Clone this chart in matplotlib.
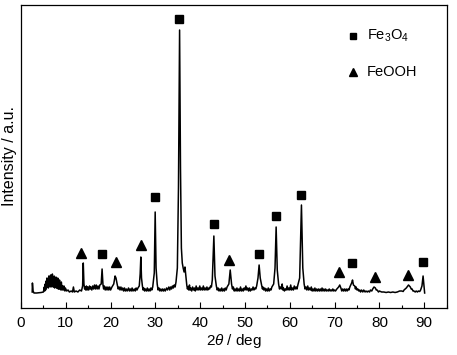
import matplotlib
matplotlib.use('Agg')
import matplotlib.pyplot as plt
from matplotlib.ticker import MultipleLocator

plt.rcParams['font.family'] = ['Liberation Sans', 'DejaVu Sans']
plt.rcParams['mathtext.fontset'] = 'custom'
plt.rcParams['mathtext.it'] = 'Liberation Sans:italic'
plt.rcParams['mathtext.rm'] = 'Liberation Sans'

# XRD profile (2theta in deg, intensity in a.u.)
pattern = [
    (2.5, 16), (2.55, 25), (2.7, 17), (2.9, 15), (3.5, 15), (4.5, 15.5), (5.0, 16),
    (5.2, 21), (5.3, 17), (5.4, 24), (5.5, 18), (5.6, 27), (5.7, 20), (5.8, 30),
    (5.9, 21), (6.0, 26), (6.1, 20), (6.2, 32), (6.3, 22), (6.4, 28), (6.5, 21),
    (6.6, 33), (6.7, 22), (6.8, 29), (6.9, 21), (7.0, 34), (7.1, 22), (7.2, 28),
    (7.3, 21), (7.4, 32), (7.5, 20), (7.6, 27), (7.7, 21), (7.8, 31), (7.9, 20),
    (8.0, 26), (8.1, 20), (8.2, 30), (8.3, 19), (8.4, 25), (8.5, 19), (8.6, 28),
    (8.7, 19), (8.8, 24), (8.9, 18), (9.0, 26), (9.2, 18), (9.3, 22), (9.5, 18),
    (9.6, 22), (9.8, 17), (9.9, 20), (10.2, 17), (10.5, 18), (10.8, 16), (11.2, 17),
    (11.5, 16), (11.7, 21), (11.9, 16), (12.3, 17), (12.7, 16), (13.1, 18), (13.5, 17),
    (13.75, 22), (13.9, 45), (14.05, 24), (14.2, 19), (14.3, 21), (14.45, 18), (14.6, 22),
    (14.75, 18), (14.9, 21), (15.1, 18), (15.3, 22), (15.45, 19), (15.6, 21), (15.8, 18),
    (16.0, 22), (16.2, 19), (16.4, 23), (16.6, 19), (16.8, 23), (17.0, 19), (17.2, 22),
    (17.4, 19), (17.6, 23), (17.9, 24), (18.1, 39), (18.3, 23), (18.45, 19), (18.6, 22),
    (18.8, 18), (19.0, 21), (19.2, 18), (19.4, 21), (19.6, 18), (19.8, 21), (20.0, 18),
    (20.3, 21), (20.7, 24), (21.0, 32), (21.2, 30), (21.5, 23), (21.7, 19), (21.9, 21),
    (22.1, 18), (22.3, 21), (22.5, 18), (22.7, 20), (22.9, 17), (23.1, 20), (23.3, 17),
    (23.5, 19), (23.7, 17), (24.0, 20), (24.2, 17), (24.4, 19), (24.6, 17), (24.8, 20),
    (25.0, 17), (25.3, 19), (25.5, 17), (25.7, 20), (25.9, 18), (26.1, 20), (26.4, 22),
    (26.6, 34), (26.75, 51), (26.9, 30), (27.1, 22), (27.25, 18), (27.4, 20), (27.6, 17),
    (27.8, 19), (28.0, 17), (28.2, 20), (28.4, 17), (28.6, 19), (28.8, 17), (29.0, 20),
    (29.2, 18), (29.4, 21), (29.75, 35), (29.95, 96), (30.15, 40), (30.4, 24), (30.6, 18),
    (30.8, 20), (31.0, 17), (31.2, 19), (31.4, 17), (31.6, 19), (31.8, 17), (32.0, 19),
    (32.2, 17), (32.5, 20), (32.7, 18), (33.0, 21), (33.2, 18), (33.4, 21), (33.6, 19),
    (33.8, 22), (34.0, 20), (34.2, 23), (34.4, 21), (34.6, 26), (34.9, 40), (35.15, 120),
    (35.4, 278), (35.6, 140), (35.8, 60), (36.0, 45), (36.2, 40), (36.4, 36), (36.6, 41),
    (36.8, 32), (37.0, 23), (37.15, 19), (37.3, 21), (37.45, 18), (37.6, 23), (37.75, 18),
    (37.9, 20), (38.1, 17), (38.3, 21), (38.5, 18), (38.7, 20), (38.9, 17), (39.1, 22),
    (39.3, 18), (39.5, 20), (39.7, 18), (39.9, 22), (40.1, 18), (40.3, 20), (40.5, 18),
    (40.7, 22), (40.9, 18), (41.1, 20), (41.3, 18), (41.5, 21), (41.7, 18), (41.9, 20),
    (42.1, 19), (42.3, 22), (42.5, 21), (42.7, 28), (43.05, 72), (43.3, 32), (43.6, 22),
    (43.8, 18), (44.0, 20), (44.2, 17), (44.4, 19), (44.6, 17), (44.8, 20), (45.0, 17),
    (45.2, 19), (45.4, 17), (45.6, 20), (45.8, 18), (46.0, 21), (46.4, 24), (46.7, 38),
    (47.0, 24), (47.2, 19), (47.4, 21), (47.6, 17), (47.8, 19), (48.0, 17), (48.2, 20),
    (48.4, 17), (48.6, 19), (48.8, 17), (49.0, 21), (49.2, 17), (49.4, 19), (49.6, 17),
    (49.8, 20), (50.0, 18), (50.2, 22), (50.4, 18), (50.6, 20), (50.8, 17), (51.0, 20),
    (51.2, 17), (51.4, 19), (51.6, 18), (51.8, 21), (52.0, 18), (52.2, 20), (52.4, 19),
    (52.6, 22), (52.9, 30), (53.15, 43), (53.4, 30), (53.7, 23), (53.9, 19), (54.0, 21),
    (54.2, 18), (54.4, 20), (54.6, 17), (54.8, 19), (55.0, 17), (55.2, 20), (55.4, 17),
    (55.6, 19), (55.8, 18), (56.0, 21), (56.4, 24), (56.7, 40), (56.95, 81), (57.2, 38),
    (57.5, 24), (57.7, 19), (57.9, 21), (58.1, 19), (58.3, 24), (58.45, 18), (58.6, 20),
    (58.8, 17), (59.0, 19), (59.2, 18), (59.4, 22), (59.6, 18), (59.8, 20), (60.0, 18),
    (60.2, 23), (60.4, 18), (60.6, 20), (60.8, 18), (61.0, 22), (61.2, 19), (61.4, 21),
    (61.6, 19), (61.8, 23), (62.2, 30), (62.6, 103), (62.9, 40), (63.2, 24), (63.4, 19),
    (63.6, 21), (63.8, 18), (64.0, 22), (64.2, 18), (64.4, 20), (64.6, 18), (64.8, 21),
    (65.0, 17), (65.2, 19), (65.4, 17), (65.6, 20), (65.8, 17), (66.0, 19), (66.2, 17),
    (66.4, 19), (66.6, 17), (66.8, 19), (67.0, 17), (67.2, 20), (67.4, 17), (67.6, 19),
    (67.8, 17), (68.0, 19), (68.2, 17), (68.4, 18), (68.6, 17), (68.8, 19), (69.0, 17),
    (69.2, 18), (69.4, 17), (69.6, 19), (69.8, 17), (70.0, 18), (70.2, 17), (70.5, 19),
    (70.9, 21), (71.15, 23), (71.4, 20), (71.6, 17), (71.8, 19), (72.0, 17), (72.2, 19),
    (72.4, 17), (72.6, 19), (72.8, 17), (73.0, 19), (73.2, 18), (73.4, 21), (73.8, 25),
    (74.0, 28), (74.2, 23), (74.5, 22), (74.65, 19), (74.8, 21), (75.0, 18), (75.2, 19),
    (75.4, 17), (75.6, 18), (75.8, 16), (76.0, 18), (76.3, 16), (76.5, 18), (76.8, 16),
    (77.0, 17), (77.3, 16), (77.5, 17), (77.8, 16), (78.0, 18), (78.3, 17), (78.5, 19),
    (78.8, 21), (79.1, 20), (79.3, 18), (79.5, 18), (79.8, 16), (80.0, 17), (80.5, 16),
    (81.0, 16), (81.5, 15.5), (82.0, 16), (82.5, 15.5), (83.0, 16), (83.5, 15.5), (84.0, 16),
    (84.5, 17), (85.0, 17), (85.3, 16.5), (85.5, 18), (86.0, 20), (86.5, 23), (86.9, 21),
    (87.1, 19), (87.3, 19), (87.5, 17), (87.7, 17), (88.0, 16), (88.2, 17), (88.5, 16),
    (88.7, 17), (89.0, 16.5), (89.2, 18), (89.5, 22), (89.75, 32), (89.95, 22), (90.1, 15),
]
two_theta = [p[0] for p in pattern]
intensity = [p[1] for p in pattern]

# phase markers above the peaks
fe3o4_x = [18.0, 30.0, 35.2, 43.1, 53.2, 56.9, 62.6, 73.8, 89.8]
fe3o4_y = [54, 111, 289, 84, 54, 92, 113, 45, 46]
feooh_x = [13.5, 21.1, 26.7, 46.5, 71.0, 79.0, 86.4]
feooh_y = [55, 46, 63, 48, 36, 31, 33]

fig = plt.figure(figsize=(4.57, 3.55), dpi=100)
ax = fig.add_axes([21 / 457, 47 / 355, 425.6 / 457, 303.5 / 355])

ax.plot(two_theta, intensity, color='black', lw=1.1)
ax.plot(fe3o4_x, fe3o4_y, 's', color='black', ms=5.5, ls='none')
ax.plot(feooh_x, feooh_y, '^', color='black', ms=7.5, ls='none')

# legend drawn by hand like the original
ax.plot([74.2], [272], 's', color='black', ms=4.5)
ax.text(77.2, 272, 'Fe$_3$O$_4$', fontsize=10.5, va='center', ha='left')
ax.plot([74.2], [236], '^', color='black', ms=6)
ax.text(77.2, 236, 'FeOOH', fontsize=10.5, va='center', ha='left')

ax.set_xlim(0, 95)
ax.set_ylim(0, 303.5)
ax.xaxis.set_major_locator(MultipleLocator(10))
ax.xaxis.set_minor_locator(MultipleLocator(5))
ax.tick_params(axis='x', which='major', direction='in', length=4, width=0.8,
               labelsize=11, pad=6)
ax.tick_params(axis='x', which='minor', direction='in', length=2, width=0.8)
ax.tick_params(axis='y', left=False, labelleft=False)
for s in ax.spines.values():
    s.set_linewidth(0.9)

ax.set_xlabel(r'2$\it{\theta}$ / deg', fontsize=11, labelpad=1)
ax.set_ylabel('Intensity / a.u.', fontsize=11.5, labelpad=3)

fig.savefig('out.png', dpi=100)
